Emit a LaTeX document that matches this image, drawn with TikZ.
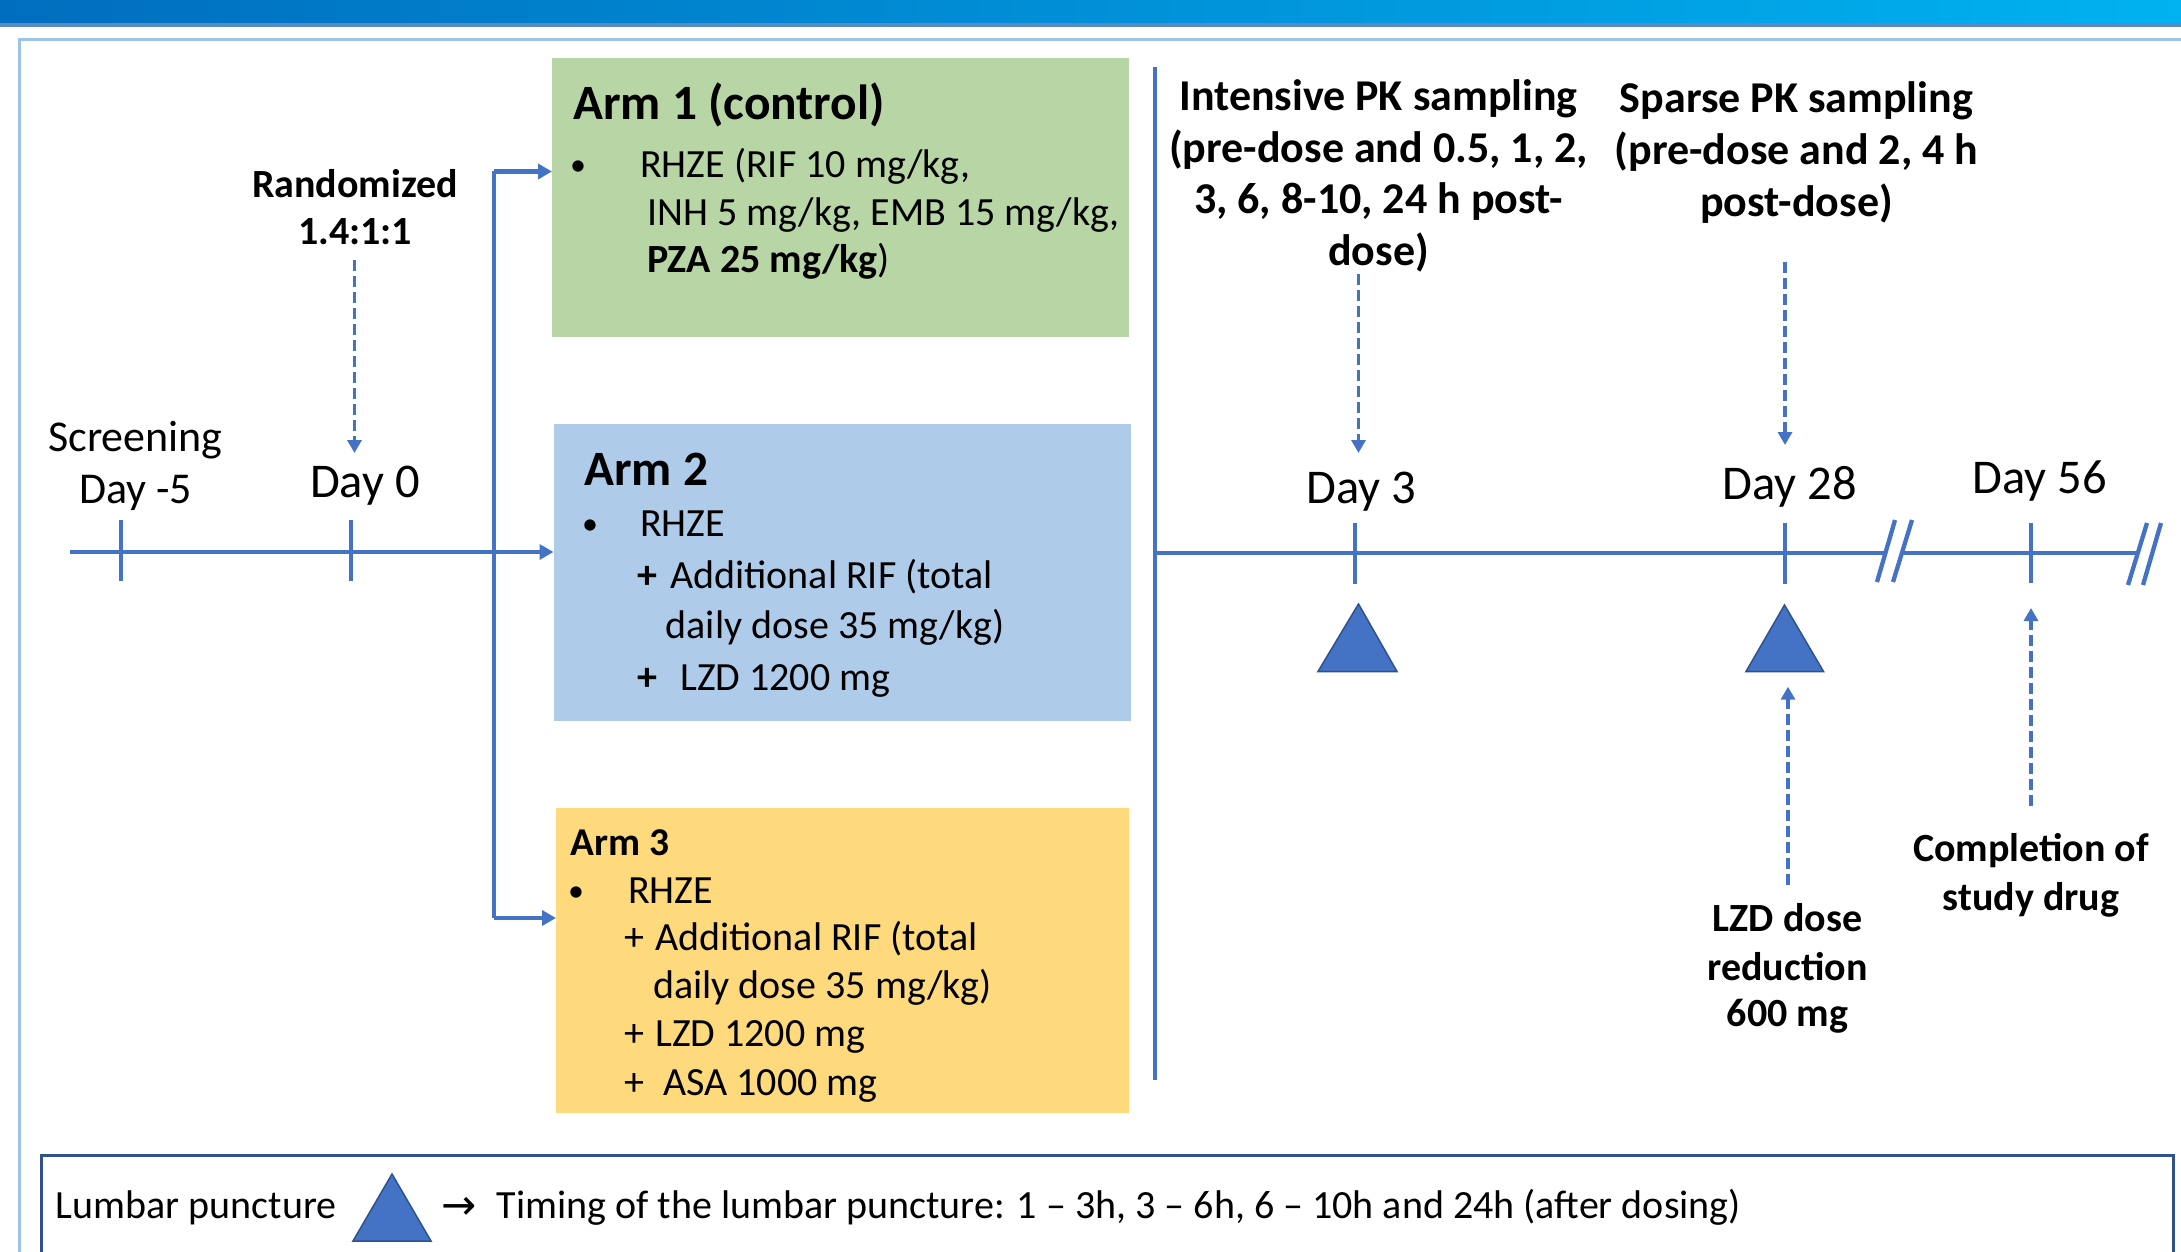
\documentclass[tikz,border=0pt]{standalone}
\usepackage{fontspec}
\setmainfont{Carlito}
\newfontfamily\symfont{DejaVu Sans}
\usetikzlibrary{arrows.meta}
\definecolor{tlblue}{RGB}{68,114,196}
\definecolor{tridark}{RGB}{47,82,143}
\definecolor{armgreen}{RGB}{184,214,165}
\definecolor{armblue}{RGB}{174,203,234}
\definecolor{armyellow}{RGB}{255,218,125}
\definecolor{framelight}{RGB}{157,195,230}
\definecolor{barleft}{RGB}{0,110,190}
\definecolor{barright}{RGB}{0,178,240}
\definecolor{barstripe}{RGB}{90,138,198}
\definecolor{legendblue}{RGB}{47,82,143}
\begin{document}
\begin{tikzpicture}[x=1pt,y=-1pt,
  tlline/.style={draw=tlblue, line width=4.3pt},
  tickmark/.style={draw=tlblue, line width=4pt},
  solidarrow/.style={draw=tlblue, line width=4.3pt, -{Triangle[width=15pt,length=14pt]}},
  dasharrow/.style={draw=tlblue, line width=3.4pt, dash pattern=on 11pt off 5pt, -{Triangle[width=14pt,length=13pt]}},
  armbox/.style={draw=none, inner sep=0pt, outer sep=0pt, anchor=north west},
  armtxt/.style={inner sep=0pt, anchor=base west, font=\fontsize{40}{48}\selectfont},
  armhdr/.style={inner sep=0pt, anchor=base west, font=\bfseries\fontsize{49.4}{58}\selectfont},
  bul/.style={inner sep=0pt, anchor=base, font=\fontsize{32}{40}\selectfont},
  plusb/.style={inner sep=0pt, anchor=base west, font=\bfseries\fontsize{40}{48}\selectfont},
  daylbl/.style={inner sep=0pt, anchor=base, font=\fontsize{48.5}{58}\selectfont},
  scrlbl/.style={inner sep=0pt, anchor=base, font=\fontsize{44}{52}\selectfont},
  pkhdr/.style={inner sep=0pt, anchor=base, font=\bfseries\fontsize{44}{52}\selectfont},
  note/.style={inner sep=0pt, anchor=base, font=\bfseries\fontsize{40}{48}\selectfont},
  tri/.style={fill=tlblue, draw=tridark, line width=1.5pt, line join=miter}
]
\useasboundingbox (0,0) rectangle (2181,1252);
\fill[white] (0,0) rectangle (2181,1252);

% top bar
\shade[left color=barleft, right color=barright] (0,0) rectangle (2181,23);
\fill[barstripe] (0,23) rectangle (2181,27);

% outer frame
\draw[framelight, line width=3pt] (2190,40) -- (19.5,40) -- (19.5,1260);

% arm boxes
\node[armbox, fill=armgreen, minimum width=577pt, minimum height=278.6pt] (arm1) at (552,58.4) {};
\node[armbox, fill=armblue, minimum width=577pt, minimum height=297.5pt] (arm2) at (553.5,423.5) {};
\node[armbox, fill=armyellow, minimum width=572.5pt, minimum height=304.5pt] (arm3) at (556,808) {};

% arm 1 text
\node[armhdr] (a1h) at (573,120) {Arm 1 (control)};
\node[bul] (a1b) at (578,176) {•};
\node[armtxt] (a1l1) at (640,178) {RHZE (RIF 10 mg/kg,};
\node[armtxt] (a1l2) at (647,225.7) {INH 5 mg/kg, EMB 15 mg/kg,};
\node[armtxt] (a1l3) at (647,272.7) {\textbf{PZA 25 mg/kg})};

% arm 2 text
\node[armhdr] (a2h) at (584,485) {Arm 2};
\node[bul] (a2b) at (590,534.7) {•};
\node[armtxt] (a2l1) at (640,536.7) {RHZE};
\node[plusb] (a2p1) at (637,588) {+};
\node[armtxt] (a2l2) at (670,588) {Additional RIF (total};
\node[armtxt] (a2l3) at (665.5,638.5) {daily dose 35 mg/kg)};
\node[plusb] (a2p2) at (637,690) {+};
\node[armtxt] (a2l4) at (680,690) {LZD 1200 mg};

% arm 3 text
\node[inner sep=0pt, anchor=base west, font=\bfseries\fontsize{39.4}{47}\selectfont] (a3h) at (570.6,855) {Arm 3};
\node[bul] (a3b) at (576,901) {•};
\node[armtxt] (a3l1) at (628,903) {RHZE};
\node[armtxt] (a3p1) at (624,950.7) {+};
\node[armtxt] (a3l2) at (655,950.7) {Additional RIF (total};
\node[armtxt] (a3l3) at (653,998.5) {daily dose 35 mg/kg)};
\node[armtxt] (a3p2) at (624,1046.7) {+};
\node[armtxt] (a3l4) at (655,1046.7) {LZD 1200 mg};
\node[armtxt] (a3p3) at (624,1095) {+};
\node[armtxt] (a3l5) at (663,1095) {ASA 1000 mg};

% left timeline and branching
\coordinate (tl0) at (70,552);
\coordinate (br1) at (494,171.5);
\coordinate (br3) at (494,918);
\draw[tlline] (br1) -- (br3);
\draw[solidarrow] (tl0) -- (tl0 -| arm2.west);
\draw[solidarrow] (br1) -- (br1 -| arm1.west);
\draw[solidarrow] (br3) -- (br3 -| arm3.west);
\draw[tickmark] (121,520) -- (121,581);
\draw[tickmark] (350.5,520) -- (350.5,581);

\node[scrlbl] (scr1) at (135.5,451) {Screening};
\node[scrlbl] (scr2) at (135.5,503) {Day -5};
\node[daylbl] (d0) at (365,497.5) {Day 0};

\node[note] (rand1) at (355,197) {Randomized};
\node[note] (rand2) at (355,244) {1.4:1:1};
\coordinate (ra) at (354.5,260);
\coordinate (rb) at (354.5,453);
\draw[dasharrow] (ra) -- (rb);

% divider
\draw[tlline, line width=4pt] (1155,67) -- (1155,1079.5);

% right timeline
\draw[tlline] (1155,553) -- (1884,553);
\draw[tlline] (1902,553) -- (2137,553);
\draw[tlline] (1877,582) -- (1895,520);
\draw[tlline] (1893,582) -- (1912,520);
\draw[tlline] (2128,585) -- (2147,523);
\draw[tlline] (2143,585) -- (2161,523);
\draw[tickmark] (1354.5,523) -- (1354.5,584);
\draw[tickmark] (1785,523) -- (1785,584);
\draw[tickmark] (2031,523) -- (2031,583);

\node[daylbl] (d3) at (1361.5,503) {Day 3};
\node[daylbl] (d28) at (1789.5,499) {Day 28};
\node[daylbl] (d56) at (2039.5,493.5) {Day 56};

% PK headers
\node[pkhdr] (ip1) at (1378.5,111) {Intensive PK sampling};
\node[pkhdr] (ip2) at (1378.5,162.5) {(pre-dose and 0.5, 1, 2,};
\node[pkhdr] (ip3) at (1378.5,214) {3, 6, 8-10, 24 h post-};
\node[pkhdr] (ip4) at (1378.5,265.5) {dose)};
\node[pkhdr] (sp1) at (1796.5,113) {Sparse PK sampling};
\node[pkhdr] (sp2) at (1796.5,164.5) {(pre-dose and 2, 4 h};
\node[pkhdr] (sp3) at (1796.5,216) {post-dose)};

\coordinate (ia) at (1358.5,274);
\coordinate (ib) at (1358.5,453);
\draw[dasharrow] (ia) -- (ib);
\coordinate (sa) at (1785,261.5);
\coordinate (sb) at (1785,445);
\draw[dasharrow] (sa) -- (sb);

% lumbar puncture triangles
\draw[tri] (1318,671.5) -- (1397,671.5) -- (1358.5,604) -- cycle;
\draw[tri] (1746,671.5) -- (1823.5,671.5) -- (1784.5,605) -- cycle;

% bottom notes
\node[note] (lz1) at (1787.5,931.7) {LZD dose};
\node[note] (lz2) at (1787.5,980) {reduction};
\node[note] (lz3) at (1787.5,1026.7) {600 mg};
\coordinate (la) at (1788,885);
\coordinate (lb) at (1788,686.7);
\draw[dasharrow] (la) -- (lb);

\node[note] (cp1) at (2031,861.7) {Completion of};
\node[note] (cp2) at (2031,910) {study drug};
\coordinate (ca) at (2031,806);
\coordinate (cb) at (2031,608);
\draw[dasharrow] (ca) -- (cb);

% legend
\draw[legendblue, line width=3pt] (41.7,1275) -- (41.7,1155) -- (2173,1155) -- (2173,1275);
\node[armtxt] (lg1) at (55.6,1218.6) {Lumbar puncture};
\draw[tri] (353,1241) -- (431,1241) -- (392,1174) -- cycle;
\node[inner sep=0pt, anchor=base, font=\symfont\fontsize{42}{48}\selectfont] (lgarr) at (459.5,1219) {→};
\node[armtxt] (lg2) at (496.6,1218.6) {Timing of the lumbar puncture: 1 – 3h, 3 – 6h, 6 – 10h and 24h (after dosing)};
\end{tikzpicture}
\end{document}
